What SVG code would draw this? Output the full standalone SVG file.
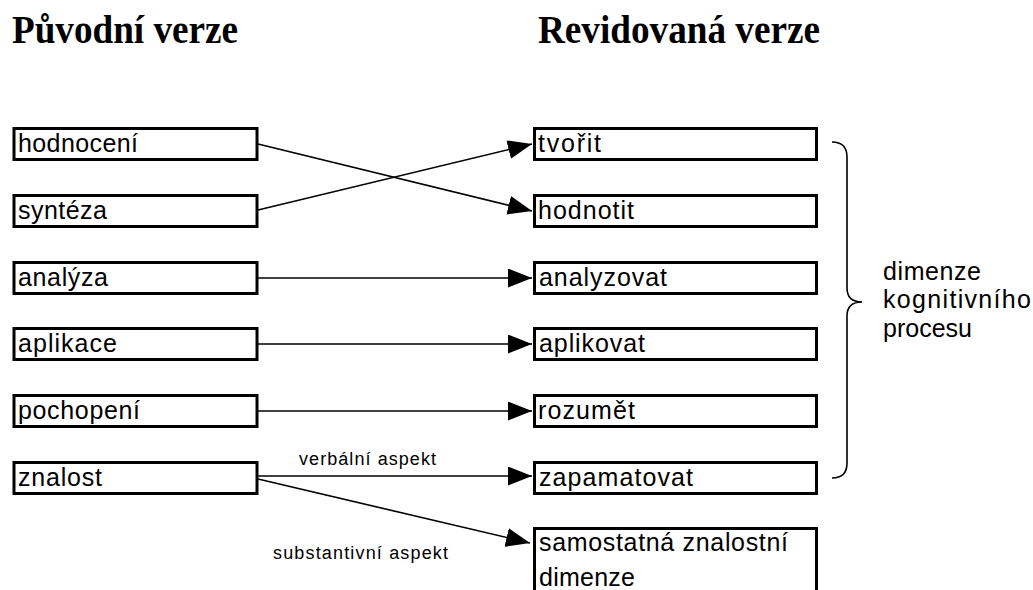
<svg xmlns="http://www.w3.org/2000/svg" width="1033" height="590" viewBox="0 0 1033 590">
<style>
.box{fill:#fff;stroke:#000;stroke-width:3}
.t{font-family:"Liberation Sans",Arial,sans-serif;font-size:25px;fill:#000}
.lbl{font-family:"Liberation Sans",Arial,sans-serif;font-size:18px;fill:#000}
.title{font-family:"Liberation Serif","Times New Roman",serif;font-size:39px;font-weight:bold;fill:#000}
.con{stroke:#000;stroke-width:1.6;fill:none}
</style>
<defs>
<marker id="arr" markerUnits="userSpaceOnUse" markerWidth="24" markerHeight="19" refX="24" refY="9.5" orient="auto">
<path d="M0,0 L24,9.5 L0,19 Z" fill="#000"/>
</marker>
</defs>
<rect width="1033" height="590" fill="#fff"/>
<text class="title" x="12" y="43" textLength="226" lengthAdjust="spacingAndGlyphs">Původní verze</text>
<text class="title" x="538" y="43" textLength="282" lengthAdjust="spacingAndGlyphs">Revidovaná verze</text>

<g id="connectors">
<line class="con" x1="258" y1="144" x2="532" y2="211" marker-end="url(#arr)"/>
<line class="con" x1="258" y1="210" x2="532" y2="144" marker-end="url(#arr)"/>
<line class="con" x1="258" y1="278" x2="532" y2="278" marker-end="url(#arr)"/>
<line class="con" x1="258" y1="344" x2="532" y2="344" marker-end="url(#arr)"/>
<line class="con" x1="258" y1="411" x2="532" y2="411" marker-end="url(#arr)"/>
<line class="con" x1="258" y1="476" x2="532" y2="476" marker-end="url(#arr)"/>
<line class="con" x1="258" y1="479" x2="530" y2="543" marker-end="url(#arr)"/>
<text class="lbl" x="299" y="465" textLength="137" lengthAdjust="spacing">verbální aspekt</text>
<text class="lbl" x="273" y="559" textLength="175" lengthAdjust="spacing">substantivní aspekt</text>
</g>

<g id="n-hodnoceni"><rect class="box" x="14" y="128.5" width="243" height="31"/><text class="t" x="18" y="152" textLength="120" lengthAdjust="spacing">hodnocení</text></g>
<g id="n-synteza"><rect class="box" x="14" y="195.5" width="243" height="31"/><text class="t" x="18" y="219" textLength="89" lengthAdjust="spacing">syntéza</text></g>
<g id="n-analyza"><rect class="box" x="14" y="262.5" width="243" height="31"/><text class="t" x="18" y="286" textLength="90" lengthAdjust="spacing">analýza</text></g>
<g id="n-aplikace"><rect class="box" x="14" y="328.5" width="243" height="31"/><text class="t" x="18" y="352" textLength="99" lengthAdjust="spacing">aplikace</text></g>
<g id="n-pochopeni"><rect class="box" x="14" y="395.5" width="243" height="31"/><text class="t" x="18" y="419" textLength="122" lengthAdjust="spacing">pochopení</text></g>
<g id="n-znalost"><rect class="box" x="14" y="462.5" width="243" height="31"/><text class="t" x="18" y="486" textLength="84" lengthAdjust="spacing">znalost</text></g>

<g id="n-tvorit"><rect class="box" x="534.5" y="128.5" width="282" height="31"/><text class="t" x="538" y="152" textLength="63" lengthAdjust="spacing">tvořit</text></g>
<g id="n-hodnotit"><rect class="box" x="534.5" y="195.5" width="282" height="31"/><text class="t" x="538" y="219" textLength="96" lengthAdjust="spacing">hodnotit</text></g>
<g id="n-analyzovat"><rect class="box" x="534.5" y="262.5" width="282" height="31"/><text class="t" x="539" y="286" textLength="128" lengthAdjust="spacing">analyzovat</text></g>
<g id="n-aplikovat"><rect class="box" x="534.5" y="328.5" width="282" height="31"/><text class="t" x="539" y="352" textLength="106" lengthAdjust="spacing">aplikovat</text></g>
<g id="n-rozumet"><rect class="box" x="534.5" y="395.5" width="282" height="31"/><text class="t" x="538" y="419" textLength="97" lengthAdjust="spacing">rozumět</text></g>
<g id="n-zapamatovat"><rect class="box" x="534.5" y="462.5" width="282" height="31"/><text class="t" x="539" y="486" textLength="154" lengthAdjust="spacing">zapamatovat</text></g>
<g id="n-samostatna"><rect class="box" x="534.5" y="528.5" width="282" height="80"/><text class="t" x="539" y="551" textLength="249" lengthAdjust="spacing">samostatná znalostní</text><text class="t" x="539" y="586" textLength="96" lengthAdjust="spacing">dimenze</text></g>

<g id="brace">
<path class="con" d="M832,142 C842,142 847,147 847,157 L847,288 C847,297 852,302 862,302 C852,302 847,307 847,316 L847,463 C847,473 842,478 832,478"/>
<text class="t" x="883" y="280" textLength="98" lengthAdjust="spacing">dimenze</text>
<text class="t" x="883" y="308" textLength="148" lengthAdjust="spacing">kognitivního</text>
<text class="t" x="883" y="337">procesu</text>
</g>
</svg>
